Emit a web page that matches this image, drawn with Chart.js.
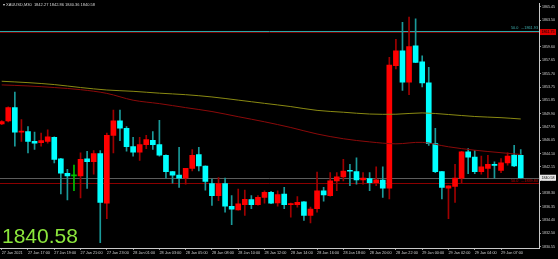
<!DOCTYPE html>
<html><head><meta charset="utf-8">
<script src="https://cdn.jsdelivr.net/npm/chart.js@4.4.1/dist/chart.umd.min.js"></script>
<style>html,body{margin:0;padding:0;background:#000;overflow:hidden}</style>
</head><body>
<canvas id="c" width="558" height="259"></canvas>
<script>
// ---- data ----
const headerText = "\u25BE XAUUSD,M30  1842.27 1842.86 1840.36 1840.58";
const xTickLabels = ["27 Jan 2021","27 Jan 17:00","27 Jan 19:00","27 Jan 21:00","27 Jan 23:00",
  "28 Jan 01:00","28 Jan 03:00","28 Jan 05:00","28 Jan 08:00","28 Jan 10:00",
  "28 Jan 12:00","28 Jan 14:00","28 Jan 16:00","28 Jan 18:00","28 Jan 20:00",
  "28 Jan 22:00","29 Jan 00:00","29 Jan 02:00","29 Jan 04:00","29 Jan 07:00"];
const xTickBars = [0,4,8,12,16,20,24,28,32,36,40,44,48,52,56,60,64,68,72,76];
const yTickLabels = ["1865.45","1863.50","1861.55","1859.60","1857.65","1855.70","1853.75","1851.85",
  "1849.90","1847.95","1846.05","1844.10","1842.15","1840.20","1838.30","1836.35","1834.40","1832.50","1830.55"];

const opens = [
1848.41,1848.84,1850.79,1847.20,1847.30,1845.87,1845.68,1845.87,1846.44,1843.33,
1841.23,1840.85,1840.85,1843.33,1842.90,1844.10,1836.87,1846.73,1848.84,1847.77,
1845.11,1844.29,1845.39,1846.01,1845.39,1843.82,1841.46,1840.95,1840.52,1841.95,
1843.96,1842.28,1839.74,1837.98,1839.74,1836.44,1835.92,1836.68,1837.40,1836.68,
1837.73,1838.45,1836.93,1838.22,1836.68,1836.68,1837.07,1835.11,1836.07,1838.69,
1837.98,1840.13,1840.70,1841.60,1841.46,1840.27,1840.45,1839.88,1840.23,1839.08,
1856.87,1859.02,1854.47,1859.74,1857.44,1854.37,1845.54,1841.46,1839.08,1839.31,
1840.52,1844.33,1843.57,1841.46,1841.95,1842.52,1841.66,1842.75,1843.86,1843.82];
const highs = [
1848.90,1850.90,1853.04,1849.02,1848.02,1847.20,1847.06,1847.55,1846.54,1843.40,
1841.81,1842.42,1844.19,1844.43,1844.53,1844.53,1847.06,1850.41,1850.41,1848.02,
1846.44,1846.44,1846.73,1847.30,1848.92,1843.90,1841.50,1845.01,1841.95,1844.68,
1845.01,1842.30,1840.37,1840.60,1840.52,1837.98,1838.94,1838.79,1837.98,1837.98,
1838.69,1838.60,1838.69,1839.17,1836.90,1837.83,1837.10,1836.30,1841.42,1839.17,
1841.32,1841.32,1843.24,1842.52,1843.47,1841.32,1841.32,1842.18,1842.18,1858.06,
1860.69,1863.18,1863.94,1863.66,1858.30,1856.63,1847.77,1841.50,1839.41,1842.52,
1844.43,1844.82,1844.53,1843.71,1843.82,1842.90,1843.38,1844.19,1845.29,1844.68];
const lows = [
1848.30,1848.70,1845.15,1845.87,1844.19,1844.68,1845.15,1845.62,1842.75,1838.22,
1837.36,1838.69,1837.65,1839.02,1841.09,1831.13,1834.63,1844.19,1845.97,1844.43,
1843.71,1843.10,1844.82,1844.68,1843.71,1840.52,1839.80,1839.17,1839.65,1841.56,
1841.56,1838.79,1836.54,1837.26,1835.58,1833.77,1835.85,1835.11,1836.07,1836.60,
1836.87,1836.80,1836.44,1836.07,1834.86,1836.30,1834.39,1834.00,1835.58,1837.16,
1837.90,1838.69,1840.13,1839.41,1839.65,1839.65,1838.69,1839.41,1837.73,1837.50,
1856.38,1853.28,1852.65,1857.30,1853.76,1845.29,1841.32,1837.50,1834.63,1837.01,
1839.88,1841.18,1841.18,1841.09,1840.60,1840.52,1841.32,1842.42,1842.18,1840.50];
const closes = [
1848.74,1850.79,1847.20,1847.35,1845.87,1845.62,1845.97,1846.54,1843.24,1841.23,
1840.85,1840.85,1843.24,1842.90,1844.10,1837.01,1846.73,1848.84,1847.77,1845.11,
1844.29,1845.39,1846.11,1845.39,1843.86,1841.46,1840.95,1840.52,1841.95,1843.82,
1842.28,1840.03,1837.98,1839.74,1836.44,1836.01,1836.78,1837.45,1836.68,1837.73,
1838.45,1836.87,1838.12,1836.68,1836.78,1837.01,1835.11,1836.01,1838.69,1838.08,
1840.13,1840.70,1841.56,1841.52,1840.27,1840.52,1839.88,1840.27,1839.08,1856.96,
1859.02,1854.47,1859.64,1857.34,1854.37,1845.54,1841.46,1839.17,1839.41,1840.52,
1844.33,1843.57,1841.46,1842.18,1842.52,1842.38,1842.75,1843.71,1842.28,1840.58];

const maBars   = [0,4,8,12,16,20,24,28,32,36,40,44,48,52,56,60,64,68,72,76,79];
const maYellow = [1854.60,1854.40,1854.12,1853.69,1853.33,1853.14,1852.87,1852.65,1852.32,1851.86,
  1851.39,1850.92,1850.37,1850.10,1849.84,1849.81,1850.00,1849.77,1849.48,1849.31,1849.12];
const maRed    = [1854.07,1853.92,1853.69,1853.38,1852.84,1851.85,1851.35,1850.77,1850.20,1849.45,
  1848.71,1847.88,1846.94,1846.25,1845.79,1845.51,1845.72,1845.08,1844.58,1844.22,1843.96];

const levelPrices = [1861.78, 1861.93, 1840.58, 1839.80];
const levelColors = ['#780000', '#2aa8a8', '#5c5c5c', '#8b0000'];
const levelTextColors = ['', '#3fb0b0', '', '#c00000'];
const levelTexts  = ['', '50.0  \u21921861.93', '', '50.0  \u21921839.80'];
const axisBoxes = [{price:1861.75, text:'1861.75', bg:'#e00000', fg:'#000000'},
                   {price:1840.58, text:'1840.58', bg:'#e8e8e8', fg:'#000000'}];

// ---- style ----
const upBody='#ff0000', upWick='#a00000', dnBody='#00ffff', dnWick='#1a9a9a', doji='#00c000';
const idx = opens.map((_,i)=>i);
const isUp = i => closes[i] > opens[i];
const bodyCol = i => opens[i]===closes[i] ? doji : (isUp(i) ? upBody : dnBody);
const wickCol = i => opens[i]===closes[i] ? doji : (isUp(i) ? upWick : dnWick);

const overlay = {
  id:'overlay',
  beforeDraw(chart){
    const c=chart.ctx; c.save(); c.fillStyle='#000'; c.fillRect(0,0,chart.width,chart.height); c.restore();
  },
  beforeDatasetsDraw(chart){
    const c=chart.ctx, a=chart.chartArea, y=chart.scales.y;
    c.save();
    levelPrices.forEach((p,k)=>{
      const py=Math.round(y.getPixelForValue(p))+0.5;
      c.strokeStyle=levelColors[k]; c.lineWidth=1;
      c.beginPath(); c.moveTo(a.left,py); c.lineTo(a.right,py); c.stroke();
    });
    c.restore();
  },
  afterDraw(chart){
    const c=chart.ctx, a=chart.chartArea, y=chart.scales.y;
    c.save();
    c.font='3.8px "Liberation Sans"'; c.textAlign='right'; c.textBaseline='bottom';
    levelPrices.forEach((p,k)=>{
      if(!levelTexts[k]) return;
      c.fillStyle = levelTextColors[k];
      c.fillText(levelTexts[k], a.right-1, y.getPixelForValue(p)-0.5);
    });
    c.textAlign='left'; c.textBaseline='middle';
    axisBoxes.forEach(b=>{
      const py=y.getPixelForValue(b.price);
      c.fillStyle=b.bg; c.fillRect(a.right+1, py-3, 16, 6);
      c.fillStyle=b.fg; c.font='3.6px "Liberation Sans"'; c.fillText(b.text, a.right+2.5, py);
    });
    c.fillStyle='#d8d8d8'; c.font='4px "Liberation Sans"'; c.textBaseline='top';
    c.fillText(headerText, 3, 3);
    c.fillStyle='#8ce63c'; c.font='21px "Liberation Sans"'; c.textBaseline='alphabetic';
    c.fillText(closes[closes.length-1].toFixed(2), 2, 243);
    c.restore();
  }
};

new Chart(document.getElementById('c'), {
  type:'bar',
  data:{datasets:[
    {type:'line', label:'MA slow', data:maBars.map((b,k)=>({x:b,y:maYellow[k]})), borderColor:'#8a8a12', borderWidth:1, pointRadius:0, tension:0.35, order:0},
    {type:'line', label:'MA fast', data:maBars.map((b,k)=>({x:b,y:maRed[k]})), borderColor:'#8b0a0a', borderWidth:1, pointRadius:0, tension:0.35, order:0},
    {label:'body', data:idx.map(i=>({x:i,y:[opens[i],closes[i]]})), backgroundColor:idx.map(bodyCol), barThickness:5, minBarLength:1, grouped:false, order:2},
    {label:'wick', data:idx.map(i=>({x:i,y:[lows[i],highs[i]]})), backgroundColor:idx.map(wickCol), barThickness:1, grouped:false, order:3}
  ]},
  options:{
    responsive:false, animation:false, devicePixelRatio:1,
    layout:{padding:0},
    plugins:{legend:{display:false}, tooltip:{enabled:false}},
    scales:{
      x:{type:'linear', min:-0.26, max:81.78, offset:false,
        afterFit(s){s.height=11;},
        afterBuildTicks(s){s.ticks=xTickBars.map(v=>({value:v}));},
        ticks:{autoSkip:false, maxRotation:0, minRotation:0, align:'start', color:'#cfcfcf', padding:0.5,
          font:{family:'Liberation Sans', size:3.8}, callback:(v,i)=>xTickLabels[i]},
        grid:{display:true, drawOnChartArea:false, drawTicks:true, tickLength:2, color:'#9a9a9a', offset:false},
        border:{display:true, color:'#c8c8c8', width:1}},
      y:{position:'right', min:1830.37, max:1865.95,
        afterFit(s){s.width=19;},
        afterBuildTicks(s){s.ticks=yTickLabels.map(v=>({value:parseFloat(v)}));},
        ticks:{autoSkip:false, color:'#cfcfcf', padding:1, font:{family:'Liberation Sans', size:3.6},
          callback:(v,i)=>yTickLabels[i]},
        grid:{display:true, drawOnChartArea:false, drawTicks:true, tickLength:2, color:'#9a9a9a'},
        border:{display:true, color:'#c8c8c8', width:1}}
    }
  },
  plugins:[overlay]
});
</script>
</body></html>
